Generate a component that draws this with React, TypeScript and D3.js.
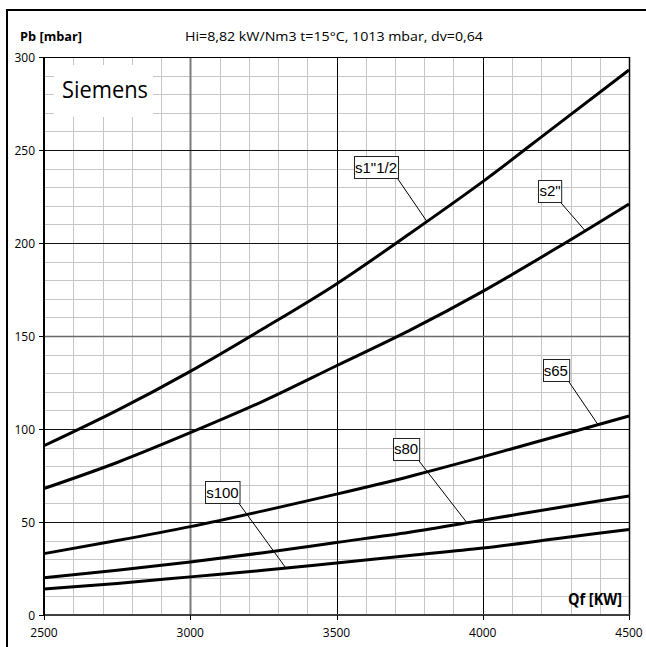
import React, { useEffect, useRef } from 'react';
import * as d3 from 'd3';

// Gas flow Qf [kW] sample points
const qValues = [2500, 2750, 3000, 3250, 3500, 3750, 4000, 4250, 4500];
// Pressure drop Pb [mbar] per valve size
const sOneHalf = [91, 110, 131, 154, 178, 205, 233, 263, 293];
const sTwo = [68, 82, 98, 115, 134, 153, 174, 197, 221];
const s65 = [33, 40, 47.5, 56, 65, 74.5, 85, 96, 107];
const s80 = [20, 24, 28.5, 33.5, 39, 44.5, 51, 57.5, 64];
const s100 = [14, 17, 20.5, 24, 28, 32, 36, 41, 46];

const seriesNames = ['s1"1/2', 's2"', 's65', 's80', 's100'];
const seriesValues = [sOneHalf, sTwo, s65, s80, s100];
// label box centres (data space) and leader target Q on each curve
const labelQ = [3635, 4230, 4250, 3738, 3110];
const labelP = [240.6, 228.2, 131.7, 89.5, 66.1];
const leaderQ = [3809, 4350, 4394, 3946, 3327];

const xTicks = [2500, 3000, 3500, 4000, 4500];
const yTicks = [0, 50, 100, 150, 200, 250, 300];

const W = 646;
const H = 647;
const L = 44, R = 629, T = 57, B = 615;

export default function App() {
  const ref = useRef<SVGSVGElement | null>(null);

  useEffect(() => {
    const svg = d3.select(ref.current);
    svg.selectAll('*').remove();

    const x = d3.scaleLinear().domain([2500, 4500]).range([L, R]);
    const y = d3.scaleLinear().domain([0, 300]).range([B, T]);
    const cx = (v: number) => Math.round(x(v)) + 0.5;
    const cy = (v: number) => Math.round(y(v)) + 0.5;

    // outer frame
    svg.append('rect').attr('x', 0).attr('y', 0).attr('width', W).attr('height', H).attr('fill', '#fff');
    svg.append('line').attr('x1', 6).attr('x2', W).attr('y1', 10).attr('y2', 10).attr('stroke', '#000').attr('stroke-width', 2);
    svg.append('line').attr('x1', 7).attr('x2', 7).attr('y1', 9).attr('y2', H).attr('stroke', '#000').attr('stroke-width', 2);

    const g = svg.append('g');

    // minor grid
    const minorX = d3.range(2600, 4500, 100).filter((v) => v % 500 !== 0);
    const minorY = d3.range(10, 300, 10).filter((v) => v % 50 !== 0);
    g.selectAll('.mx').data(minorX).enter().append('line')
      .attr('x1', (d) => cx(d)).attr('x2', (d) => cx(d)).attr('y1', T).attr('y2', B)
      .attr('stroke', '#c6c6c6').attr('stroke-width', 1);
    g.selectAll('.my').data(minorY).enter().append('line')
      .attr('y1', (d) => cy(d)).attr('y2', (d) => cy(d)).attr('x1', L).attr('x2', R)
      .attr('stroke', '#c6c6c6').attr('stroke-width', 1);

    // major grid
    g.selectAll('.Mx').data([3000, 3500, 4000]).enter().append('line')
      .attr('x1', (d) => cx(d)).attr('x2', (d) => cx(d)).attr('y1', T).attr('y2', B)
      .attr('stroke', (d) => (d === 3000 ? '#7a7a7a' : '#000'))
      .attr('stroke-width', (d) => (d === 3000 ? 2 : 1));
    g.selectAll('.My').data([50, 100, 150, 200, 250]).enter().append('line')
      .attr('y1', (d) => cy(d)).attr('y2', (d) => cy(d)).attr('x1', L).attr('x2', R)
      .attr('stroke', (d) => (d === 150 ? '#6a6a6a' : '#111'))
      .attr('stroke-width', (d) => (d === 150 ? 1.5 : 1));

    // Siemens box
    g.append('rect').attr('x', 54).attr('y', 65).attr('width', 99).attr('height', 52).attr('fill', '#fff');
    g.append('text').attr('x', 62).attr('y', 98)
      .attr('font-family', 'Open Sans, sans-serif').attr('font-size', 23)
      .attr('textLength', 86).attr('lengthAdjust', 'spacingAndGlyphs')
      .attr('fill', '#000').text('Siemens');

    // plot border & axes
    g.append('line').attr('x1', L).attr('x2', R + 0.5).attr('y1', T + 0.5).attr('y2', T + 0.5).attr('stroke', '#000').attr('stroke-width', 1);
    g.append('line').attr('x1', R + 0.5).attr('x2', R + 0.5).attr('y1', T).attr('y2', B).attr('stroke', '#000').attr('stroke-width', 1.5);
    g.append('line').attr('x1', L).attr('x2', R + 1).attr('y1', B).attr('y2', B).attr('stroke', '#404040').attr('stroke-width', 2);
    g.append('line').attr('x1', L).attr('x2', L).attr('y1', T).attr('y2', B + 1).attr('stroke', '#000').attr('stroke-width', 2);

    // ticks
    g.selectAll('.ty').data(yTicks).enter().append('line')
      .attr('x1', L - 5).attr('x2', L).attr('y1', (d) => cy(d)).attr('y2', (d) => cy(d))
      .attr('stroke', '#000').attr('stroke-width', 1);
    g.selectAll('.tx').data(xTicks).enter().append('line')
      .attr('x1', (d) => cx(d)).attr('x2', (d) => cx(d)).attr('y1', B).attr('y2', B + 5)
      .attr('stroke', '#000').attr('stroke-width', 1);

    const tickFont = 'Open Sans, sans-serif';
    g.selectAll('.yl').data(yTicks).enter().append('text')
      .attr('x', 35).attr('y', (d) => y(d) + 4.5).attr('text-anchor', 'end')
      .attr('font-family', tickFont).attr('font-size', 12).attr('fill', '#000')
      .text((d) => String(d));
    g.selectAll('.xl').data(xTicks).enter().append('text')
      .attr('x', (d) => x(d)).attr('y', 637).attr('text-anchor', 'middle')
      .attr('font-family', tickFont).attr('font-size', 12).attr('fill', '#000')
      .text((d) => String(d));

    // titles
    g.append('text').attr('x', 20).attr('y', 41)
      .attr('font-family', tickFont).attr('font-size', 13).attr('font-weight', 'bold')
      .attr('textLength', 62).attr('lengthAdjust', 'spacingAndGlyphs')
      .attr('fill', '#000').text('Pb [mbar]');
    g.append('text').attr('x', 185).attr('y', 41)
      .attr('font-family', tickFont).attr('font-size', 13)
      .attr('textLength', 298).attr('lengthAdjust', 'spacingAndGlyphs')
      .attr('fill', '#000').text('Hi=8,82 kW/Nm3  t=15°C, 1013 mbar, dv=0,64');
    g.append('text').attr('x', 622).attr('y', 605).attr('text-anchor', 'end')
      .attr('font-family', tickFont).attr('font-size', 16).attr('font-weight', 'bold')
      .attr('textLength', 54).attr('lengthAdjust', 'spacingAndGlyphs')
      .attr('fill', '#000').text('Qf [KW]');

    // curves
    const line = d3.line<number>()
      .x((_, i) => x(qValues[i]))
      .y((d) => y(d))
      .curve(d3.curveMonotoneX);
    seriesValues.forEach((vals) => {
      g.append('path').attr('d', line(vals) as string)
        .attr('fill', 'none').attr('stroke', '#000').attr('stroke-width', 3)
        .attr('stroke-linejoin', 'round');
    });

    // labels with leaders
    const interp = (vals: number[], q: number) => {
      const i = Math.min(qValues.length - 2, Math.max(0, d3.bisectRight(qValues, q) - 1));
      const t = (q - qValues[i]) / (qValues[i + 1] - qValues[i]);
      return vals[i] + t * (vals[i + 1] - vals[i]);
    };
    seriesNames.forEach((name, i) => {
      const lx = x(labelQ[i]);
      const ly = y(labelP[i]);
      const lg = g.append('g');
      const txt = lg.append('text').attr('x', lx).attr('y', ly + 5.5)
        .attr('text-anchor', 'middle')
        .attr('font-family', 'Liberation Sans, Arial, sans-serif').attr('font-size', 15)
        .attr('fill', '#000').text(name);
      const bb = (txt.node() as SVGTextElement).getBBox();
      const bw = bb.width + 2;
      const bh = 22;
      const bx = Math.round(lx - bw / 2) + 0.5;
      const by = Math.round(ly - bh / 2) + 0.5;
      lg.insert('rect', 'text').attr('x', bx).attr('y', by).attr('width', bw).attr('height', bh)
        .attr('fill', '#fff').attr('stroke', '#222').attr('stroke-width', 1);
      const tq = leaderQ[i];
      const tp = interp(seriesValues[i], tq);
      g.insert('line', 'g')
        .attr('x1', bx + bw - 1).attr('y1', by + bh)
        .attr('x2', x(tq)).attr('y2', y(tp))
        .attr('stroke', '#000').attr('stroke-width', 1);
    });
  }, []);

  return (
    <svg
      ref={ref}
      width={W}
      height={H}
      style={{ position: 'absolute', left: 0, top: 0, display: 'block' }}
    />
  );
}
